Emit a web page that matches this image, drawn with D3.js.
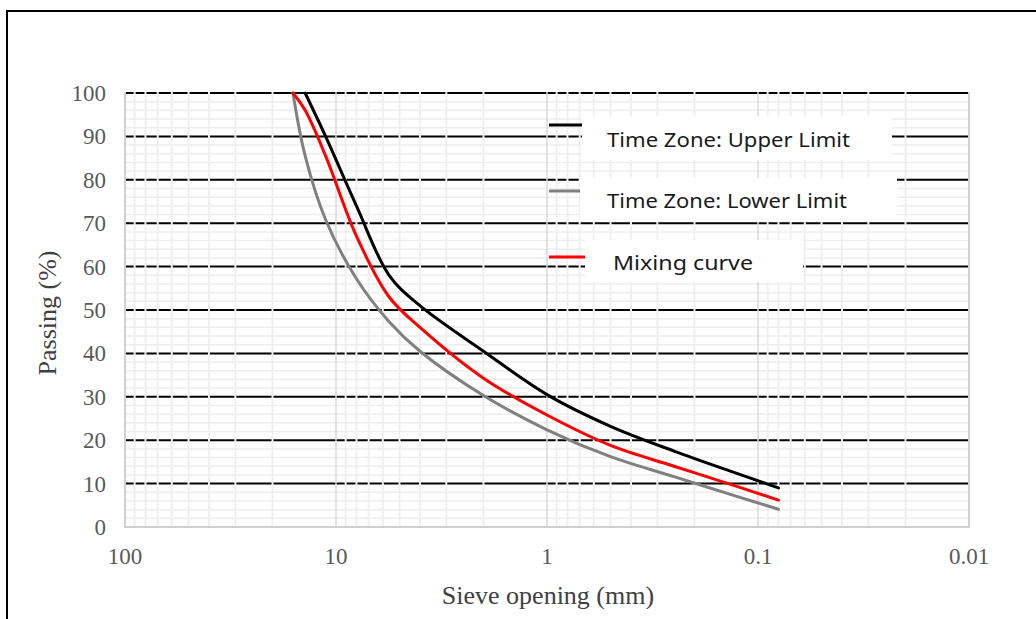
<!DOCTYPE html>
<html>
<head>
<meta charset="utf-8">
<script src="https://cdn.jsdelivr.net/npm/d3@7"></script>
<style>
  body { margin: 0; background: #fff; }
  svg { display: block; }
</style>
</head>
<body>
<div id="chart"></div>
<script>
// sieve sizes (mm) and percent passing
const sieves = [16, 14, 11.2, 8, 5.6, 4, 2, 1, 0.5, 0.25, 0.125, 0.08]
const upperLimit = [null, 100, 90, 74, 58, 51, 40.5, 30.5, 23.2, 17.5, 12.3, 9]
const lowerLimit = [100, 85.5, 70.8, 57.2, 47.3, 40.5, 30.3, 22.4, 16.2, 11.6, 7, 4.1]
const mixingCurve = [100, 96, 85.5, 67, 53, 46, 34.3, 25.8, 18.8, 14, 9.3, 6.2]

const seriesNames = ['Time Zone: Upper Limit', 'Time Zone: Lower Limit', 'Mixing curve']
const seriesColors = ['#000000', '#808080', '#ff0000']

const xTicks = [100, 10, 1, 0.1, 0.01]
const xTickLabels = ['100', '10', '1', '0.1', '0.01']
const yTicks = [0, 10, 20, 30, 40, 50, 60, 70, 80, 90, 100]

const width = 1036
const height = 619
const plot = { left: 125, right: 969, top: 93, bottom: 527 }

const svg = d3.select('#chart').append('svg')
  .attr('width', width)
  .attr('height', height)

// outer frame
svg.append('path')
  .attr('d', `M7,${height + 2} V11 H${width + 2}`)
  .attr('fill', 'none')
  .attr('stroke', '#000')
  .attr('stroke-width', 2)

const x = d3.scaleLog().domain([100, 0.01]).range([plot.left, plot.right])
const y = d3.scaleLinear().domain([0, 100]).range([plot.bottom, plot.top])

const grid = svg.append('g')

// minor horizontal gridlines, every 2 %
const minorY = d3.range(2, 100, 2).filter(v => v % 10 !== 0)
grid.selectAll('.minor-y').data(minorY).enter().append('line')
  .attr('x1', plot.left).attr('x2', plot.right)
  .attr('y1', d => y(d)).attr('y2', d => y(d))
  .attr('stroke', '#eeeeee').attr('stroke-width', 1.5)

// major horizontal gridlines
grid.selectAll('.major-y').data(yTicks.slice(1)).enter().append('line')
  .attr('x1', plot.left).attr('x2', plot.right)
  .attr('y1', d => y(d)).attr('y2', d => y(d))
  .attr('stroke', '#000').attr('stroke-width', 2)

// minor vertical gridlines (painted over the black lines, as in the source)
const minorX = []
for (let dec = 0.01; dec < 100; dec *= 10) {
  for (let k = 2; k <= 9; k++) minorX.push(+(dec * k).toPrecision(3))
}
grid.selectAll('.minor-x').data(minorX).enter().append('line')
  .attr('x1', d => x(d)).attr('x2', d => x(d))
  .attr('y1', plot.top - 1).attr('y2', plot.bottom)
  .attr('stroke', '#f0f0f0').attr('stroke-width', 2)

grid.selectAll('.major-x').data([10, 1, 0.1]).enter().append('line')
  .attr('x1', d => x(d)).attr('x2', d => x(d))
  .attr('y1', plot.top - 1).attr('y2', plot.bottom)
  .attr('stroke', '#d9d9d9').attr('stroke-width', 1.5)

// axis frame lines (left, bottom, right)
svg.append('path')
  .attr('d', `M${plot.left},${plot.top - 1} V${plot.bottom} H${plot.right} V${plot.top - 1}`)
  .attr('fill', 'none')
  .attr('stroke', '#d0d0d0')
  .attr('stroke-width', 2)

// tick labels
svg.selectAll('.ylab').data(yTicks).enter().append('text')
  .attr('x', 106)
  .attr('y', d => y(d))
  .attr('dy', '0.35em')
  .attr('text-anchor', 'end')
  .attr('font-family', 'Liberation Serif, Times New Roman, serif')
  .attr('font-size', 23)
  .attr('fill', '#595959')
  .text(d => d)

svg.selectAll('.xlab').data(xTicks).enter().append('text')
  .attr('x', d => x(d))
  .attr('y', 564)
  .attr('text-anchor', 'middle')
  .attr('font-family', 'Liberation Serif, Times New Roman, serif')
  .attr('font-size', 23)
  .attr('fill', '#595959')
  .text((d, i) => xTickLabels[i])

// axis titles
svg.append('text')
  .attr('x', 548).attr('y', 604)
  .attr('text-anchor', 'middle')
  .attr('font-family', 'Liberation Serif, Times New Roman, serif')
  .attr('font-size', 26)
  .attr('fill', '#404040')
  .text('Sieve opening (mm)')

svg.append('text')
  .attr('transform', `translate(56,${(plot.top + plot.bottom) / 2 + 3}) rotate(-90)`)
  .attr('text-anchor', 'middle')
  .attr('font-family', 'Liberation Serif, Times New Roman, serif')
  .attr('font-size', 26)
  .attr('fill', '#404040')
  .text('Passing (%)')

// curves
const allSeries = [upperLimit, lowerLimit, mixingCurve]
const line = d3.line()
  .defined(d => d[1] != null)
  .x(d => x(d[0]))
  .y(d => y(d[1]))
  .curve(d3.curveCatmullRom.alpha(0.5))

const order = [1, 2, 0]
order.forEach(i => {
  const pts = sieves.map((s, j) => [s, allSeries[i][j]])
  svg.append('path')
    .datum(pts)
    .attr('d', line)
    .attr('fill', 'none')
    .attr('stroke', seriesColors[i])
    .attr('stroke-width', 3)
    .attr('stroke-linecap', 'round')
})

// legend: a short line sample plus a white text box for each series
const legend = [
  { ly: 125, box: [582, 116, 310, 44], tx: 607, ty: 147, tl: 243 },
  { ly: 191, box: [580, 178, 317, 44], tx: 607, ty: 208, tl: 240 },
  { ly: 257, box: [585, 240, 218, 42], tx: 613, ty: 270, tl: 140 }
]
legend.forEach((e, i) => {
  svg.append('line')
    .attr('x1', 549).attr('x2', 590)
    .attr('y1', e.ly).attr('y2', e.ly)
    .attr('stroke', seriesColors[i])
    .attr('stroke-width', 3)
  svg.append('rect')
    .attr('x', e.box[0]).attr('y', e.box[1])
    .attr('width', e.box[2]).attr('height', e.box[3])
    .attr('fill', '#fff')
  svg.append('text')
    .attr('x', e.tx).attr('y', e.ty)
    .attr('font-family', 'Noto Sans, Open Sans, sans-serif')
    .attr('font-size', 19)
    .attr('fill', '#1a1a1a')
    .attr('textLength', e.tl)
    .attr('lengthAdjust', 'spacingAndGlyphs')
    .text(seriesNames[i])
})
</script>
</body>
</html>
